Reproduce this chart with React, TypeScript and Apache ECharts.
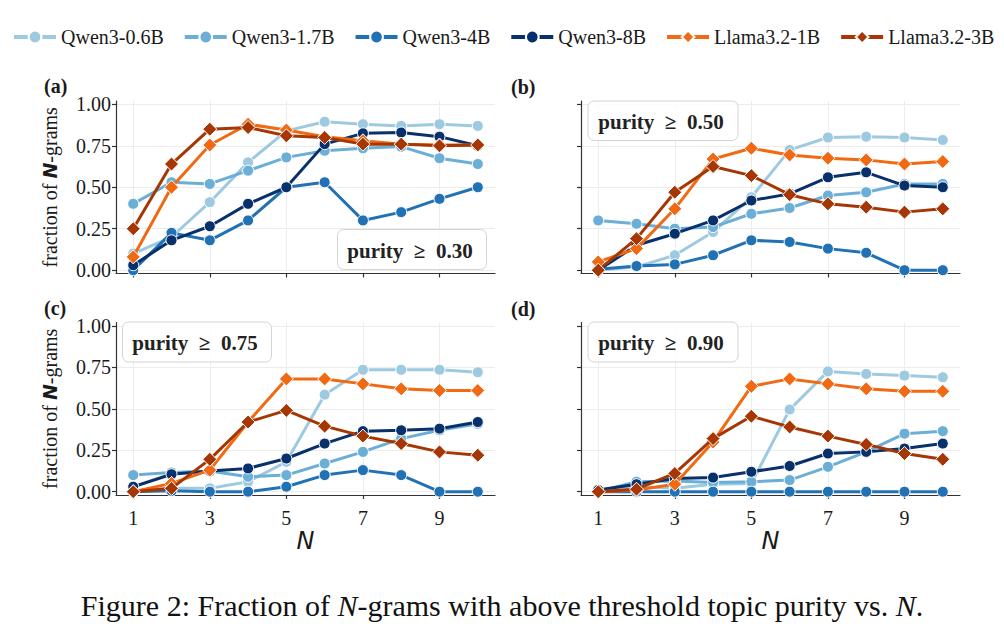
import React, { useEffect, useRef } from 'react';
import * as echarts from 'echarts';

// ---------- data ----------
const N_VALUES = [1, 2, 3, 4, 5, 6, 7, 8, 9, 10];
const X_TICKS = [1, 3, 5, 7, 9];
const Y_TICKS = [0, 0.25, 0.5, 0.75, 1.0];
const MODELS = ['Qwen3-0.6B', 'Qwen3-1.7B', 'Qwen3-4B', 'Qwen3-8B', 'Llama3.2-1B', 'Llama3.2-3B'];
const PANEL_LETTERS = ['(a)', '(b)', '(c)', '(d)'];
const THRESHOLDS = ['0.30', '0.50', '0.75', '0.90'];

// (a) purity >= 0.30
const a_q06 = [0.10, 0.20, 0.41, 0.65, 0.84, 0.895, 0.88, 0.87, 0.88, 0.87];
const a_q17 = [0.40, 0.53, 0.52, 0.60, 0.68, 0.72, 0.735, 0.745, 0.675, 0.64];
const a_q4 = [0.00, 0.225, 0.18, 0.30, 0.50, 0.53, 0.30, 0.35, 0.43, 0.50];
const a_q8 = [0.03, 0.18, 0.265, 0.40, 0.50, 0.76, 0.825, 0.83, 0.805, 0.75];
const a_l1 = [0.08, 0.50, 0.755, 0.88, 0.845, 0.805, 0.78, 0.76, 0.755, 0.755];
const a_l3 = [0.25, 0.64, 0.85, 0.86, 0.81, 0.80, 0.76, 0.76, 0.75, 0.755];

// (b) purity >= 0.50
const b_q06 = [0.00, 0.02, 0.09, 0.23, 0.44, 0.725, 0.80, 0.805, 0.80, 0.785];
const b_q17 = [0.30, 0.28, 0.25, 0.26, 0.34, 0.375, 0.45, 0.47, 0.52, 0.52];
const b_q4 = [0.005, 0.025, 0.035, 0.09, 0.18, 0.17, 0.13, 0.105, 0.00, 0.00];
const b_q8 = [0.00, 0.15, 0.22, 0.30, 0.42, 0.46, 0.56, 0.59, 0.51, 0.50];
const b_l1 = [0.05, 0.13, 0.37, 0.67, 0.735, 0.695, 0.675, 0.665, 0.64, 0.655];
const b_l3 = [0.00, 0.19, 0.47, 0.625, 0.57, 0.455, 0.40, 0.38, 0.35, 0.37];

// (c) purity >= 0.75
const c_q06 = [0.00, 0.02, 0.02, 0.06, 0.18, 0.585, 0.735, 0.735, 0.735, 0.72];
const c_q17 = [0.10, 0.115, 0.125, 0.09, 0.10, 0.17, 0.24, 0.32, 0.37, 0.41];
const c_q4 = [0.00, 0.005, 0.00, 0.00, 0.03, 0.10, 0.13, 0.10, 0.00, 0.00];
const c_q8 = [0.03, 0.105, 0.125, 0.14, 0.20, 0.29, 0.365, 0.37, 0.38, 0.42];
const c_l1 = [0.00, 0.05, 0.13, 0.42, 0.68, 0.68, 0.65, 0.62, 0.61, 0.61];
const c_l3 = [0.00, 0.02, 0.195, 0.42, 0.49, 0.395, 0.335, 0.29, 0.24, 0.22];

// (d) purity >= 0.90
const d_q06 = [0.00, 0.03, 0.02, 0.045, 0.05, 0.495, 0.725, 0.71, 0.70, 0.69];
const d_q17 = [0.00, 0.06, 0.065, 0.055, 0.06, 0.07, 0.15, 0.24, 0.35, 0.365];
const d_q4 = [0.00, 0.00, 0.00, 0.00, 0.00, 0.00, 0.00, 0.00, 0.00, 0.00];
const d_q8 = [0.01, 0.045, 0.08, 0.085, 0.12, 0.155, 0.23, 0.24, 0.26, 0.29];
const d_l1 = [0.00, 0.01, 0.045, 0.30, 0.635, 0.68, 0.65, 0.62, 0.605, 0.605];
const d_l3 = [0.00, 0.015, 0.11, 0.32, 0.455, 0.39, 0.335, 0.285, 0.23, 0.195];

const PANELS = [
  [a_q06, a_q17, a_q4, a_q8, a_l1, a_l3],
  [b_q06, b_q17, b_q4, b_q8, b_l1, b_l3],
  [c_q06, c_q17, c_q4, c_q8, c_l1, c_l3],
  [d_q06, d_q17, d_q4, d_q8, d_l1, d_l3],
];

// ---------- styles ----------
const COLORS = ['#9ecae1', '#6baed6', '#2171b5', '#08306b', '#f16913', '#a63603'];
const SYMBOLS = ['circle', 'circle', 'circle', 'circle', 'diamond', 'diamond'];
const SYMBOL_SIZES = [11, 11, 11, 11, 14, 14];
const SERIF = "'Liberation Serif', 'Times New Roman', serif";
const SANS = "'DejaVu Sans', sans-serif";
const TEXT = '#1a1a1a';

const GRIDS = [
  { left: 116, top: 101, width: 379, height: 172.5 },
  { left: 581, top: 101, width: 379, height: 172.5 },
  { left: 116, top: 322.5, width: 379, height: 172.5 },
  { left: 581, top: 322.5, width: 379, height: 172.5 },
];
const BOXES = [
  { x: 337.5, y: 229.5, w: 149, h: 40 },
  { x: 588, y: 101, w: 150, h: 39.5 },
  { x: 122.5, y: 322, w: 149, h: 40 },
  { x: 588, y: 322, w: 150, h: 40 },
];
const LETTER_POS = [
  { x: 44, y: 86 },
  { x: 511, y: 87 },
  { x: 44, y: 308 },
  { x: 511, y: 309 },
];

export default function App() {
  const ref = useRef<HTMLDivElement>(null);

  useEffect(() => {
    if (!ref.current) return;
    const chart = echarts.init(ref.current, null, { renderer: 'svg' });

    const xAxes = GRIDS.map((_, i) => {
      const bottom = i >= 2;
      return {
        type: 'value',
        gridIndex: i,
        min: 0.55,
        max: 10.45,
        name: bottom ? 'N' : '',
        nameLocation: 'middle',
        nameGap: 30,
        nameTextStyle: { fontFamily: SANS, fontStyle: 'italic', fontSize: 24, color: TEXT },
        axisLine: { show: true, onZero: false, lineStyle: { color: '#333', width: 1.2 } },
        axisTick: { show: true, customValues: X_TICKS, length: 4, lineStyle: { color: '#333', width: 1.2 } },
        axisLabel: {
          show: bottom,
          customValues: X_TICKS,
          margin: 13,
          fontFamily: SERIF,
          fontSize: 20,
          color: TEXT,
        },
        splitLine: { show: true, lineStyle: { color: '#ececec', width: 1 } },
      };
    });

    const yAxes = GRIDS.map((_, i) => {
      const left = i % 2 === 0;
      return {
        type: 'value',
        gridIndex: i,
        min: -0.02,
        max: 1.02,
        name: left ? '{s|fraction of }{n|N}{s|-grams}' : '',
        nameLocation: 'middle',
        nameGap: 56,
        nameTextStyle: {
          color: TEXT,
          rich: {
            s: { fontFamily: SERIF, fontSize: 20, color: TEXT },
            n: { fontFamily: SANS, fontStyle: 'italic', fontWeight: 'bold', fontSize: 19, color: TEXT },
          },
        },
        axisLine: { show: true, onZero: false, lineStyle: { color: '#333', width: 1.2 } },
        axisTick: { show: true, customValues: Y_TICKS, length: 4, lineStyle: { color: '#333', width: 1.2 } },
        axisLabel: {
          show: left,
          customValues: Y_TICKS,
          margin: 5,
          fontFamily: SERIF,
          fontSize: 20,
          color: TEXT,
          formatter: (v: number) => v.toFixed(2),
        },
        splitLine: { show: true, lineStyle: { color: '#ececec', width: 1 } },
      };
    });

    const series: any[] = [];
    PANELS.forEach((panel, pi) => {
      panel.forEach((vals, mi) => {
        series.push({
          type: 'line',
          name: MODELS[mi],
          xAxisIndex: pi,
          yAxisIndex: pi,
          data: N_VALUES.map((n, k) => [n, vals[k]]),
          symbol: SYMBOLS[mi],
          symbolSize: SYMBOL_SIZES[mi],
          showSymbol: true,
          lineStyle: { color: COLORS[mi], width: 3 },
          itemStyle: { color: COLORS[mi], borderColor: '#ffffff', borderWidth: 1 },
          emphasis: { disabled: true },
          z: 2 + mi,
        });
      });
    });

    const graphics: any[] = [];
    PANEL_LETTERS.forEach((t, i) => {
      graphics.push({
        type: 'text',
        x: LETTER_POS[i].x,
        y: LETTER_POS[i].y,
        style: {
          text: t,
          font: `bold 20px ${SERIF}`,
          fill: TEXT,
          align: 'left',
          verticalAlign: 'middle',
        },
      });
    });
    THRESHOLDS.forEach((th, i) => {
      const b = BOXES[i];
      graphics.push({
        type: 'rect',
        shape: { x: b.x, y: b.y, width: b.w, height: b.h, r: 6 },
        style: { fill: 'rgba(255,255,255,0.85)', stroke: '#d4d4d4', lineWidth: 1 },
        z: 50,
      });
      graphics.push({
        type: 'text',
        x: b.x + b.w / 2 - 2,
        y: b.y + b.h / 2 + 1,
        style: {
          text: `purity  \u2265  ${th}`,
          font: `bold 21px ${SERIF}`,
          fill: '#222',
          align: 'center',
          verticalAlign: 'middle',
        },
        z: 51,
      });
    });
    graphics.push({
      type: 'text',
      x: 502,
      y: 605,
      style: {
        text: '{r|Figure 2: Fraction of }{i|N}{r|-grams with above threshold topic purity vs. }{i|N}{r|.}',
        align: 'center',
        verticalAlign: 'middle',
        rich: {
          r: { fontFamily: SERIF, fontSize: 30, fill: '#111', color: '#111' },
          i: { fontFamily: SERIF, fontSize: 30, fontStyle: 'italic', fill: '#111', color: '#111' },
        },
      },
    });

    const option: any = {
      animation: false,
      backgroundColor: '#ffffff',
      legend: {
        data: MODELS,
        left: 12,
        top: 27,
        width: 990,
        padding: 0,
        itemWidth: 42,
        itemHeight: 16,
        itemGap: 19,
        lineStyle: { width: 4 },
        textStyle: { fontFamily: SERIF, fontSize: 20, color: TEXT },
      },
      grid: GRIDS.map((g) => ({ ...g, containLabel: false })),
      xAxis: xAxes,
      yAxis: yAxes,
      series,
      graphic: graphics,
    };

    chart.setOption(option);
    return () => chart.dispose();
  }, []);

  return (
    <div
      ref={ref}
      style={{ position: 'absolute', left: 0, top: 0, width: 1004, height: 635, background: '#ffffff' }}
    />
  );
}
